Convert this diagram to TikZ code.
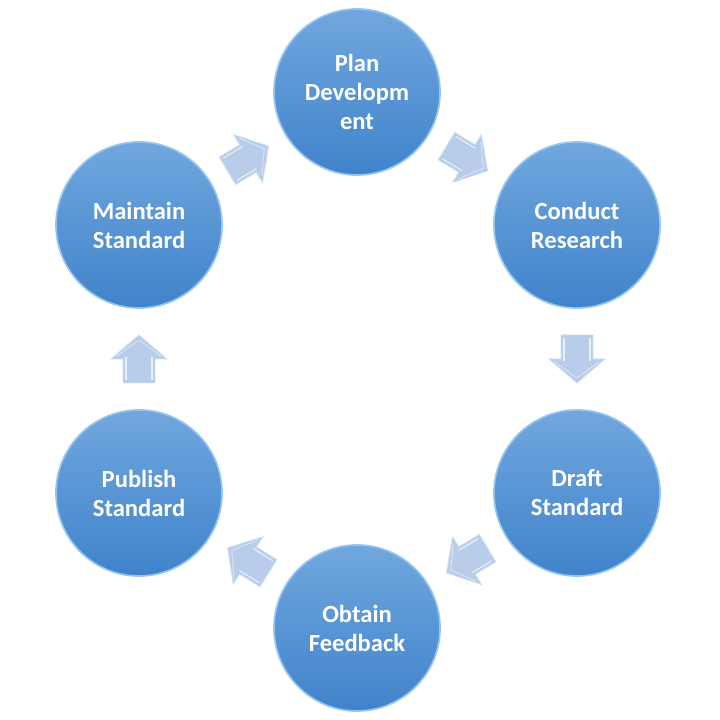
\documentclass[tikz,border=0pt]{standalone}
\usepackage{fontspec}
\setmainfont{Carlito}
\usetikzlibrary{calc}

\definecolor{circtop}{RGB}{113,167,222}
\definecolor{circbot}{RGB}{64,131,203}
\definecolor{circrim}{RGB}{150,197,242}
\definecolor{arrowfill}{RGB}{184,205,233}
\definecolor{arrowedge}{RGB}{208,223,243}

\tikzset{
  stage/.style={circle, minimum size=4.15cm, inner sep=0pt, top color=circtop, bottom color=circbot,
    draw=circrim, line width=1.2pt, text=white, align=center,
    font=\fontsize{17.5}{20.6}\selectfont\bfseries},
  blockarrow/.style={fill=arrowfill, draw=arrowedge, line width=0.6pt, line join=miter}
}

\begin{document}
\begin{tikzpicture}[x=0.025cm, y=0.025cm]
    \useasboundingbox (0,0) rectangle (720,720);

    \node[stage](plan) at (357,628) {Plan\\Developm\\ent};
    \node[stage](research) at (577,495) {Conduct\\Research};
    \node[stage](draft) at (577,227) {Draft\\Standard};
    \node[stage](feedback) at (357,92) {Obtain\\Feedback};
    \node[stage](publish) at (139,227) {Publish\\Standard};
    \node[stage](maintain) at (139,495) {Maintain\\Standard};

    % block arrows half way between the stages
    \foreach \from/\to/\ang in {plan/research/-31, research/draft/-90, draft/feedback/-149,
                                feedback/publish/148, publish/maintain/90, maintain/plan/31}
    {
      \begin{scope}[shift = {($(\from)!0.5!(\to)$)}, rotate = \ang]
        \draw[blockarrow] (-24,-16) -- (0,-16) -- (0,-28) -- (24,0) -- (0,28) -- (0,16) -- (-24,16) -- cycle;
        \draw[white, opacity = 0.7, line width = 0.8pt] (-21,-13) -- (2,-13);
        \draw[white, opacity = 0.7, line width = 0.8pt] (-21,13) -- (2,13);
        \draw[white, opacity = 0.5, line width = 0.6pt] (3,-22) -- (19,0) -- (3,22);
      \end{scope}
    }
\end{tikzpicture}
\end{document}
